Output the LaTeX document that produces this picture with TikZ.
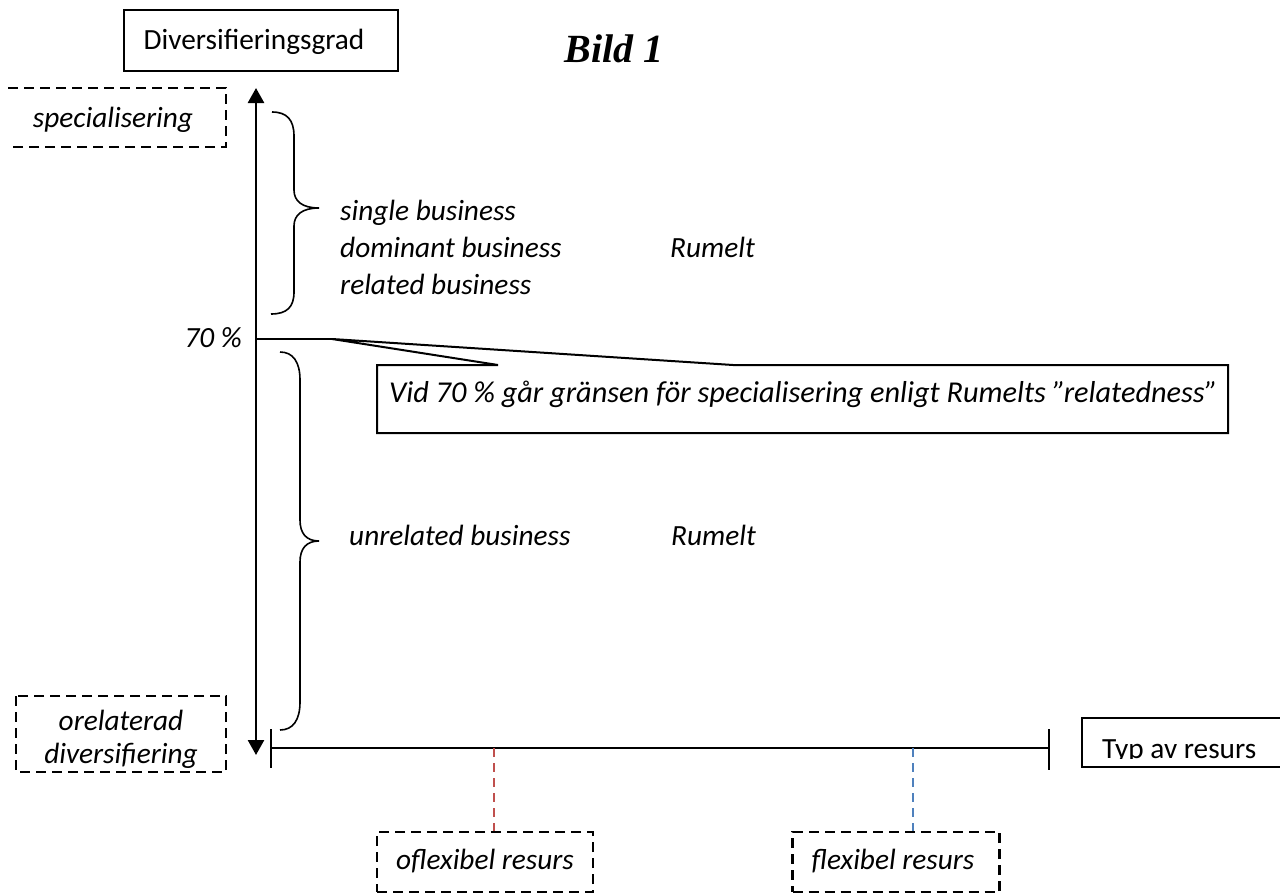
\documentclass[tikz,border=0pt]{standalone}
\usepackage{fontspec}
\setmainfont{Carlito}
\newfontfamily\bildfont{Liberation Serif}
\usetikzlibrary{arrows.meta}
\definecolor{redd}{HTML}{C0504D}
\definecolor{blued}{HTML}{4F81BD}
\begin{document}
\begin{tikzpicture}[x=1pt,y=-1pt,
  solidbox/.style={draw, line width=2pt, inner sep=0pt},
  dashbox/.style={draw, line width=2.3pt, dash pattern=on 10pt off 6pt},
  txt/.style={font=\fontsize{29.3}{35}\selectfont, inner sep=0pt},
  itxt/.style={font=\fontsize{29.3}{35}\selectfont\itshape, inner sep=0pt},
  brace/.style={line width=1.6pt},
  axis/.style={line width=2.6pt},
  reddash/.style={draw=redd, line width=2pt, dash pattern=on 9pt off 6pt},
  bluedash/.style={draw=blued, line width=2pt, dash pattern=on 9pt off 6pt}
]
\fill[white] (0,0) rectangle (1280,894);
\useasboundingbox (0,0) rectangle (1280,894);

% title box
\node[solidbox, minimum width=274pt, minimum height=61pt] (dgbox) at (261,40.5) {};
\node[txt, anchor=base] (dg) at (254,49) {Diversifieringsgrad};

% Bild 1
\node[inner sep=0pt, anchor=base, font=\bildfont\bfseries\itshape\fontsize{40}{48}\selectfont] (bild) at (614,62) {Bild 1};

% specialisering (dashed, open at left)
\draw[dashbox] (8,88) -- (226,88) -- (226,147) -- (8,147);
\node[itxt, anchor=base] (spec) at (113,127) {specialisering};

% vertical axis
\coordinate (vtop) at (256,88);
\coordinate (vbot) at (256,755);
\draw[axis, {Triangle[length=15pt,width=16pt]}-{Triangle[length=15pt,width=16pt]}] (vtop) -- (vbot);

% upper brace
\draw[brace] (272,112) .. controls (287,112) and (294,120) .. (294,136) -- (294,190)
  .. controls (294,201) and (302,208) .. (319,208)
  .. controls (302,208) and (294,215) .. (294,226) -- (294,292)
  .. controls (294,307) and (287,314) .. (271,314);

\node[itxt, anchor=base west] (sb) at (340,220) {single business};
\node[itxt, anchor=base west] (db) at (340,257) {dominant business};
\node[itxt, anchor=base west] (rb) at (340,294) {related business};
\node[itxt, anchor=base west] (rum1) at (670,257) {Rumelt};

% 70 % line and callout
\node[itxt, anchor=base east] (p70) at (242,347) {70 \%};
\coordinate (l70) at (256,339);
\coordinate (cp) at (332,339);
\draw[line width=2pt] (l70) -- (cp);
\coordinate (cA) at (498,365);
\coordinate (cB) at (733,365);
\draw[line width=2pt, line join=miter] (cA) -- (377,365) -- (377,433) -- (1228,433) -- (1228,365) -- (cB) -- (cp) -- cycle;
\node[font=\fontsize{30.3}{36}\selectfont\itshape, inner sep=0pt, anchor=base west] (call) at (389,402) {Vid 70 \% går gränsen för specialisering enligt Rumelts ”relatedness”};

% lower brace
\draw[brace] (280,352) .. controls (293,352) and (300,362) .. (300,380) -- (300,520)
  .. controls (300,533) and (306,541) .. (319,541)
  .. controls (306,541) and (300,549) .. (300,562) -- (300,702)
  .. controls (300,720) and (293,730) .. (280,730);

\node[itxt, anchor=base west] (ub) at (349,545) {unrelated business};
\node[itxt, anchor=base west] (rum2) at (671,545) {Rumelt};

% orelaterad diversifiering
\draw[dashbox] (16,696) rectangle (226,772);
\node[itxt, anchor=base] (or1) at (121,730) {orelaterad};
\node[itxt, anchor=base] (or2) at (121,763) {diversifiering};

% horizontal axis
\coordinate (hl) at (271,748);
\coordinate (hr) at (1049,748);
\draw[line width=2pt] (hl) -- (hr);
\draw[line width=2pt] (271,729) -- (271,768);
\draw[line width=2pt] (1049,729) -- (1049,770);

% Typ av resurs
\draw[line width=2pt] (1280,718) -- (1082,718) -- (1082,767) -- (1280,767);
\begin{scope}
\clip (1082,718) rectangle (1280,758.5);
\node[txt, anchor=base west] (typ) at (1102,758) {Typ av resurs};
\end{scope}

% bottom dashed boxes
\node[dashbox, minimum width=216pt, minimum height=60pt, inner sep=0pt] (ofl) at (485,862) {};
\node[itxt, anchor=base] (oflt) at (485,869) {oflexibel resurs};
\node[dashbox, minimum width=207pt, minimum height=60pt, inner sep=0pt] (fl) at (896,862) {};
\node[itxt, anchor=base] (flt) at (893,869) {flexibel resurs};

\coordinate (rc) at (494,748);
\coordinate (bc) at (913,748);
\draw[reddash] (rc) -- (rc |- ofl.north);
\draw[bluedash] (bc) -- (bc |- fl.north);
\end{tikzpicture}
\end{document}
